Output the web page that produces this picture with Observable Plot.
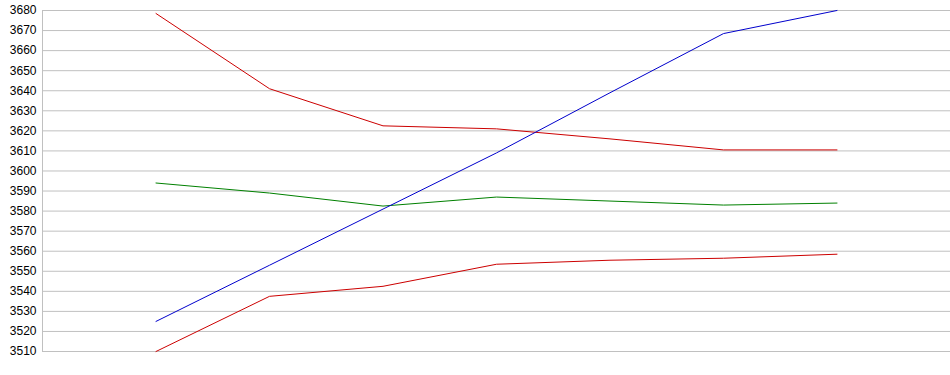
<!DOCTYPE html>
<html>
<head>
<meta charset="utf-8">
<script src="https://cdn.jsdelivr.net/npm/d3@7"></script>
<script src="https://cdn.jsdelivr.net/npm/@observablehq/plot@0.6"></script>
<style>
  html, body { margin: 0; padding: 0; background: #fff; }
  #chart svg { display: block; }
</style>
</head>
<body>
<div id="chart"></div>
<script>
const categories = [1, 2, 3, 4, 5, 6, 7];
const redTop    = [3678.5, 3641, 3622.5, 3621, 3616, 3610.5, 3610.5];
const greenLine = [3594, 3589, 3582.5, 3587, 3585, 3583, 3584];
const blueLine  = [3525, 3553, 3581, 3609, 3639, 3668.5, 3680];
const redBottom = [3510, 3537.5, 3542.5, 3553.5, 3555.5, 3556.5, 3558.5];
const yTicks = d3.range(3510, 3681, 10);

const seriesDefs = [
  {name: "redTop", values: redTop, color: "#cc0000"},
  {name: "green", values: greenLine, color: "#008000"},
  {name: "blue", values: blueLine, color: "#0000cc"},
  {name: "redBottom", values: redBottom, color: "#cc0000"}
];
const rows = seriesDefs.flatMap(s => categories.map((c, i) => ({series: s.name, x: c, y: s.values[i], color: s.color})));

const chart = Plot.plot({
  width: 950,
  height: 375,
  marginLeft: 42,
  marginRight: 0,
  marginTop: 10,
  marginBottom: 24,
  style: {fontFamily: "Arial, 'Liberation Sans', sans-serif", fontSize: "12px", color: "#000", background: "#fff"},
  x: {domain: [0, 8], axis: null},
  y: {domain: [3510, 3680], ticks: yTicks, axis: null},
  marks: [
    Plot.ruleY(yTicks, {stroke: "#c0c0c0", strokeWidth: 1}),
    Plot.ruleX([0], {stroke: "#c0c0c0", strokeWidth: 1}),
    Plot.axisY(yTicks, {tickSize: 0, tickPadding: 6, fill: "#000", fontSize: 12, tickFormat: d3.format("d"), label: null}),
    Plot.line(rows, {x: "x", y: "y", z: "series", stroke: "color", strokeWidth: 1})
  ]
});
document.getElementById("chart").appendChild(chart);
</script>
</body>
</html>
